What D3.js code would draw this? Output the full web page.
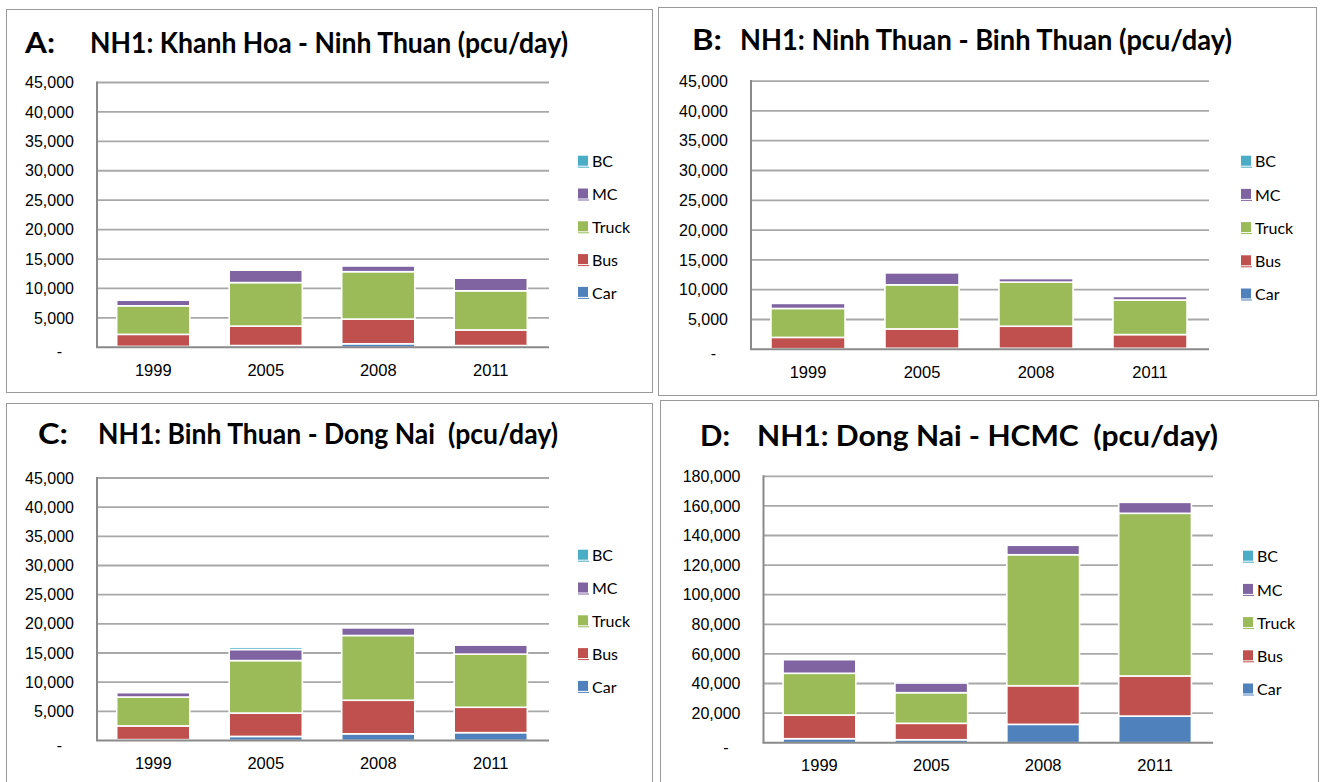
<!DOCTYPE html>
<html>
<head>
<meta charset="utf-8">
<script src="https://cdn.jsdelivr.net/npm/d3@7"></script>
<style>
body { margin: 0; background: #fff; }
svg { display: block; }
</style>
</head>
<body>
<svg id="chart" width="1321" height="782"></svg>
<script>
var years = ["1999", "2005", "2008", "2011"];
var modes = ["Car", "Bus", "Truck", "MC", "BC"];
var modeColors = ["#4F81BD", "#C0504D", "#9BBB59", "#8064A2", "#4BACC6"];

// A: Khanh Hoa - Ninh Thuan
var carA = [150, 300, 600, 300];
var busA = [2050, 3300, 4200, 2650];
var truckA = [4850, 7400, 8050, 6650];
var mcA = [950, 2100, 970, 2150];
var bcA = [0, 0, 0, 0];

// B: Ninh Thuan - Binh Thuan
var carB = [100, 170, 170, 170];
var busB = [1900, 3250, 3700, 2300];
var truckB = [4850, 7400, 7400, 5800];
var mcB = [850, 2000, 600, 600];
var bcB = [0, 0, 0, 0];

// C: Binh Thuan - Dong Nai
var carC = [150, 700, 1150, 1350];
var busC = [2350, 4000, 5750, 4350];
var truckC = [4950, 9000, 11100, 9100];
var mcC = [750, 1900, 1300, 1550];
var bcC = [0, 400, 0, 0];

// D: Dong Nai - HCMC
var carD = [2700, 2000, 12400, 18000];
var busD = [16000, 11100, 26100, 27100];
var truckD = [28200, 20700, 88500, 109900];
var mcD = [9200, 6500, 6400, 7400];
var bcD = [0, 0, 0, 0];

var svg = d3.select("#chart");

var panels = [
	{ letter: "A:", title: "NH1: Khanh Hoa - Ninh Thuan (pcu/day)",
	  series: [carA, busA, truckA, mcA, bcA], max: 45000, step: 5000,
	  box: [6, 9, 646, 383], plot: [97, 82.5, 549, 347.3],
	  letterX: 25, titleX: 90, titleW: 478, titleY: 53,
	  legendX: 578, legendY: 161.7, legendGap: 32.8 },
	{ letter: "B:", title: "NH1: Ninh Thuan - Binh Thuan (pcu/day)",
	  series: [carB, busB, truckB, mcB, bcB], max: 45000, step: 5000,
	  box: [658, 7, 658, 388], plot: [751, 81.1, 1209, 349.3],
	  letterX: 692, titleX: 740, titleW: 492, titleY: 50,
	  legendX: 1241, legendY: 161.7, legendGap: 33.2 },
	{ letter: "C:", title: "NH1: Binh Thuan - Dong Nai  (pcu/day)",
	  series: [carC, busC, truckC, mcC, bcC], max: 45000, step: 5000,
	  box: [6, 403, 646, 390], plot: [97, 478, 549, 740.5],
	  letterX: 38, titleX: 98, titleW: 460, titleY: 444,
	  legendX: 578, legendY: 555.7, legendGap: 32.8 },
	{ letter: "D:", title: "NH1: Dong Nai - HCMC  (pcu/day)",
	  series: [carD, busD, truckD, mcD, bcD], max: 180000, step: 20000,
	  box: [660, 400, 658, 390], plot: [763.5, 476.3, 1213, 742.7],
	  letterX: 700, titleX: 757, titleW: 461, titleY: 446,
	  legendX: 1243, legendY: 556.7, legendGap: 33.2 }
];

function drawPanel(p) {
	var g = svg.append("g");

	g.append("rect")
		.attr("x", p.box[0] + 0.5).attr("y", p.box[1] + 0.5)
		.attr("width", p.box[2]).attr("height", p.box[3])
		.attr("fill", "none").attr("stroke", "#9a9a9a").attr("stroke-width", 1);

	// title
	g.append("text")
		.attr("x", p.letterX).attr("y", p.titleY)
		.style("font", "bold 28px Lato, 'Open Sans', sans-serif")
		.attr("fill", "#000")
		.attr("textLength", 30).attr("lengthAdjust", "spacingAndGlyphs")
		.text(p.letter);
	g.append("text")
		.attr("x", p.titleX).attr("y", p.titleY)
		.style("font", "bold 28px Lato, 'Open Sans', sans-serif")
		.style("white-space", "pre")
		.attr("fill", "#000")
		.attr("textLength", p.titleW).attr("lengthAdjust", "spacingAndGlyphs")
		.text(p.title);

	var left = p.plot[0], top = p.plot[1], right = p.plot[2], bottom = p.plot[3];

	var y = d3.scaleLinear().domain([0, p.max]).range([bottom, top]);
	var x = d3.scaleBand().domain(years).range([left, right - 2])
		.paddingInner(0.35).paddingOuter(0.175);

	var ticks = d3.range(0, p.max + 1, p.step);

	// gridlines
	g.selectAll(".grid").data(ticks.filter(function(d) { return d > 0; }))
		.enter().append("line")
		.attr("x1", left).attr("x2", right)
		.attr("y1", function(d) { return y(d); })
		.attr("y2", function(d) { return y(d); })
		.attr("stroke", "#a8a8a8").attr("stroke-width", 1.8);

	// stacked bars
	var rows = years.map(function(yr, i) {
		var r = { year: yr };
		modes.forEach(function(m, k) { r[m] = p.series[k][i]; });
		return r;
	});
	var stacked = d3.stack().keys(modes)(rows);

	stacked.forEach(function(layer, k) {
		g.selectAll(".bar" + k).data(layer).enter().append("rect")
			.attr("x", function(d) { return x(d.data.year); })
			.attr("width", x.bandwidth())
			.attr("y", function(d) { return y(d[1]); })
			.attr("height", function(d) { return Math.max(0, y(d[0]) - y(d[1])); })
			.attr("fill", modeColors[k])
			.attr("stroke", function(d) { return d[1] > d[0] ? "#fff" : "none"; })
			.attr("stroke-width", 1.6);
	});

	// axis lines
	g.append("line")
		.attr("x1", left).attr("x2", left).attr("y1", top - 1).attr("y2", bottom)
		.attr("stroke", "#8a8a8a").attr("stroke-width", 2);
	g.append("line")
		.attr("x1", left - 1).attr("x2", right).attr("y1", bottom).attr("y2", bottom)
		.attr("stroke", "#8a8a8a").attr("stroke-width", 2);

	// y axis labels
	var yAxis = d3.axisLeft(y).tickValues(ticks).tickSize(0).tickPadding(23)
		.tickFormat(function(d) { return d === 0 ? "-" : d3.format(",")(d); });
	var ya = g.append("g").attr("transform", "translate(" + left + ",0)").call(yAxis);
	ya.select(".domain").remove();
	ya.selectAll("text")
		.style("font", "16px 'Liberation Sans', Arial, sans-serif")
		.attr("fill", "#000");
	ya.selectAll(".tick text").filter(function(d) { return d === 0; })
		.attr("dx", -12).attr("dy", "0.6em");

	// x axis labels
	var xAxis = d3.axisBottom(x).tickSize(0).tickPadding(17);
	var xa = g.append("g").attr("transform", "translate(0," + bottom + ")").call(xAxis);
	xa.select(".domain").remove();
	xa.selectAll("text")
		.style("font", "16.5px 'Liberation Sans', Arial, sans-serif")
		.attr("fill", "#000");

	// legend, top to bottom BC ... Car
	var legendOrder = modes.slice().reverse();
	legendOrder.forEach(function(m, i) {
		var k = modes.indexOf(m);
		var ly = p.legendY + i * p.legendGap;
		g.append("rect")
			.attr("x", p.legendX).attr("y", ly - 6)
			.attr("width", 10).attr("height", 10)
			.attr("fill", modeColors[k]);
		g.append("line")
			.attr("x1", p.legendX).attr("x2", p.legendX + 11)
			.attr("y1", ly + 5.5).attr("y2", ly + 5.5)
			.attr("stroke", modeColors[k]).attr("stroke-width", 1);
		g.append("text")
			.attr("x", p.legendX + 14).attr("y", ly)
			.attr("dy", "0.35em")
			.style("font", "16px Lato, 'Open Sans', sans-serif")
			.attr("fill", "#000")
			.text(m);
	});
}

panels.forEach(drawPanel);
</script>
</body>
</html>
